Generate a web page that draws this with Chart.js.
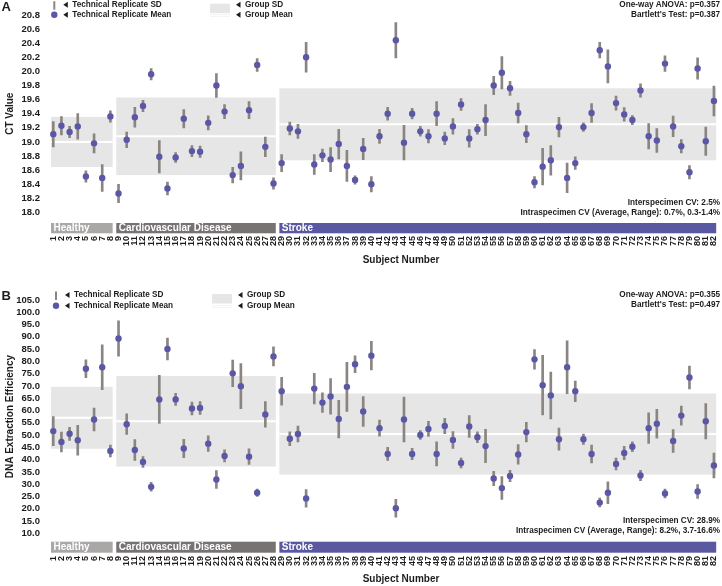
<!DOCTYPE html>
<html>
<head>
<meta charset="utf-8">
<script src="https://cdn.jsdelivr.net/npm/chart.js@4.4.0/dist/chart.umd.min.js"></script>
<style>
  html, body { margin: 0; padding: 0; background: #fff; }
  #wrap { position: relative; width: 722px; height: 586px; }
  canvas { position: absolute; left: 0; }
  #chart-ct { top: 0; }
  #chart-eff { top: 285px; }
</style>
</head>
<body>
<div id="wrap">
  <canvas id="chart-ct" width="722" height="285"></canvas>
  <canvas id="chart-eff" width="722" height="301"></canvas>
</div>
<script>
const subjects = Array.from({ length: 82 }, (_, i) => String(i + 1));

const groupNames = ['Healthy', 'Cardiovascular Disease', 'Stroke'];
const groupStart = [1, 9, 29];
const groupEnd = [8, 28, 82];

// panel A - CT value
const ctMean = [
    19.11, 19.23, 19.14, 19.22, 18.51, 18.98, 18.49, 19.36, 18.27, 19.03,
    19.35, 19.51, 19.96, 18.79, 18.34, 18.78, 19.33, 18.87, 18.86, 19.27,
    19.80, 19.43, 18.53, 18.66, 19.45, 20.09, 18.93, 18.41, 18.70, 19.19,
    19.15, 20.20, 18.68, 18.81, 18.75, 18.97, 18.66, 18.46, 18.90, 18.40,
    19.08, 19.40, 20.44, 18.99, 19.40, 19.15, 19.08, 19.40, 19.05, 19.22,
    19.53, 19.05, 19.18, 19.31, 19.80, 19.98, 19.76, 19.41, 19.11, 18.43,
    18.65, 18.74, 19.21, 18.49, 18.70, 19.21, 19.41, 20.30, 20.07, 19.55,
    19.39, 19.31, 19.73, 19.08, 19.02, 20.11, 19.22, 18.94, 18.57, 20.04,
    19.01, 19.58
];
const ctSd = [
    0.18, 0.13, 0.08, 0.18, 0.08, 0.135, 0.19, 0.08, 0.13, 0.11,
    0.14, 0.08, 0.08, 0.23, 0.09, 0.07, 0.13, 0.08, 0.08, 0.10,
    0.17, 0.10, 0.11, 0.20, 0.12, 0.09, 0.14, 0.08, 0.12, 0.09,
    0.10, 0.21, 0.14, 0.09, 0.17, 0.21, 0.22, 0.06, 0.15, 0.11,
    0.10, 0.09, 0.25, 0.245, 0.075, 0.07, 0.095, 0.17, 0.09, 0.11,
    0.085, 0.125, 0.07, 0.22, 0.13, 0.23, 0.10, 0.14, 0.12, 0.08,
    0.26, 0.21, 0.14, 0.21, 0.09, 0.06, 0.135, 0.11, 0.235, 0.10,
    0.095, 0.065, 0.095, 0.18, 0.17, 0.11, 0.145, 0.095, 0.095, 0.15,
    0.20, 0.21
];
const ctGroupMean = [19.0, 19.08, 19.25];
const ctGroupSd = [0.355, 0.55, 0.51];
const ctTicks = { min: 18.0, max: 20.8, step: 0.2 };
const ctStatsTop = ['One-way ANOVA: p=0.357', "Bartlett's Test: p=0.387"];
const ctStatsBottom = ['Interspecimen CV: 2.5%', 'Intraspecimen CV (Average, Range): 0.7%, 0.3-1.4%'];

// panel B - DNA extraction efficiency
const effMean = [
    51.6, 47.2, 50.5, 47.9, 77.0, 56.3, 77.6, 43.5, 89.3, 54.4,
    43.9, 39.0, 28.9, 64.5, 85.0, 64.5, 44.5, 60.8, 61.0, 46.5,
    31.9, 41.5, 75.1, 69.9, 41.2, 26.5, 58.4, 82.0, 67.8, 48.5,
    50.4, 24.2, 68.9, 63.2, 65.7, 56.5, 69.6, 78.8, 59.6, 82.3,
    52.8, 42.3, 20.2, 56.3, 42.3, 50.0, 52.5, 42.3, 53.7, 48.0,
    38.6, 53.5, 49.1, 45.5, 32.3, 28.4, 33.3, 42.1, 51.2, 80.8,
    70.3, 66.1, 48.3, 77.6, 67.8, 48.3, 42.3, 22.5, 26.5, 38.2,
    42.7, 45.2, 33.5, 52.8, 54.6, 26.2, 47.6, 57.9, 73.4, 27.0,
    55.6, 37.6
];
const effSd = [
    5.9, 4.05, 2.65, 6.05, 3.65, 4.65, 9.1, 2.45, 7.2, 4.2,
    4.2, 2.2, 1.8, 9.75, 4.45, 2.45, 3.7, 2.65, 2.65, 3.2,
    3.65, 2.45, 5.45, 9.2, 3.2, 1.5, 5.2, 3.85, 5.65, 2.85,
    3.2, 3.6, 6.2, 4.0, 7.25, 7.65, 9.95, 3.45, 6.05, 5.85,
    3.25, 2.65, 3.65, 9.15, 2.3, 1.8, 3.1, 4.9, 3.1, 3.45,
    2.0, 4.45, 2.25, 6.8, 2.9, 4.65, 2.3, 4.0, 4.0, 4.0,
    12.15, 9.5, 4.5, 10.75, 4.2, 2.1, 3.65, 1.8, 4.45, 2.45,
    2.7, 2.0, 2.1, 6.2, 5.9, 1.8, 4.65, 3.85, 4.65, 2.85,
    7.2, 5.1
];
const effGroupMean = [57.0, 55.6, 50.4];
const effGroupSd = [12.6, 18.4, 16.5];
const effTicks = { min: 10.0, max: 105.0, step: 5 };
const effStatsTop = ['One-way ANOVA: p=0.355', "Bartlett's Test: p=0.497"];
const effStatsBottom = ['Interspecimen CV: 28.9%', 'Intraspecimen CV (Average, Range): 8.2%, 3.7-16.6%'];

const FONT = '"Liberation Sans", Arial, Helvetica, sans-serif';
const colors = {
    point: '#5b57a7',
    whisker: '#8a8580',
    band: '#e6e6e6',
    text: '#1c1c1c',
    groups: ['#aaa7a7', '#777373', '#5b58a2']
};

function leftTriangle(ctx, x, y) {
    ctx.beginPath();
    ctx.moveTo(x, y);
    ctx.lineTo(x + 4.5, y - 3);
    ctx.lineTo(x + 4.5, y + 3);
    ctx.closePath();
    ctx.fill();
}

function groupEdges(x, k) {
    const w = x.getPixelForValue(1) - x.getPixelForValue(0);
    return [
        x.getPixelForValue(groupStart[k] - 1) - w / 2 + 1.8,
        x.getPixelForValue(groupEnd[k] - 1) + w / 2 - 1.8
    ];
}

function makePanelPlugin(p) {
    return {
        id: 'panel' + p.letter,
        beforeDatasetsDraw(chart) {
            const { ctx, scales: { x, y } } = chart;
            ctx.save();
            groupNames.forEach((g, k) => {
                const [x0, x1] = groupEdges(x, k);
                const top = y.getPixelForValue(p.groupMean[k] + p.groupSd[k]);
                const bot = y.getPixelForValue(p.groupMean[k] - p.groupSd[k]);
                ctx.fillStyle = colors.band;
                ctx.fillRect(x0, top, x1 - x0, bot - top);
                const ym = y.getPixelForValue(p.groupMean[k]);
                ctx.strokeStyle = '#fff';
                ctx.lineWidth = 2;
                ctx.beginPath();
                ctx.moveTo(x0, ym);
                ctx.lineTo(x1, ym);
                ctx.stroke();
            });
            ctx.restore();
        },
        afterDraw(chart) {
            const { ctx, chartArea, scales: { x } } = chart;
            ctx.save();

            // group label bars
            groupNames.forEach((g, k) => {
                const [x0, x1] = groupEdges(x, k);
                const t = chartArea.bottom + p.barTop;
                const b = chartArea.bottom + p.barBottom;
                ctx.fillStyle = colors.groups[k];
                ctx.fillRect(x0, t, x1 - x0, b - t);
                ctx.fillStyle = '#fff';
                ctx.font = 'bold 10px ' + FONT;
                ctx.textAlign = 'left';
                ctx.textBaseline = 'middle';
                ctx.fillText(g, x0 + 2.5, (t + b) / 2 + 0.5);
            });

            ctx.fillStyle = colors.text;

            // panel letter
            ctx.font = 'bold 13px ' + FONT;
            ctx.textAlign = 'left';
            ctx.textBaseline = 'middle';
            ctx.fillText(p.letter, 1.5, p.letterY);

            // axis titles
            ctx.font = 'bold 10px ' + FONT;
            ctx.textAlign = 'center';
            ctx.fillText('Subject Number', 401, p.xTitleY);
            ctx.save();
            ctx.translate(10, (chartArea.top + chartArea.bottom) / 2);
            ctx.rotate(-Math.PI / 2);
            ctx.fillText(p.yTitle, 0, 0);
            ctx.restore();

            // legend
            const [ly1, ly2] = p.legendY;
            ctx.strokeStyle = colors.whisker;
            ctx.lineWidth = 2;
            ctx.beginPath();
            ctx.moveTo(p.legendX, ly1 - 3.5);
            ctx.lineTo(p.legendX, ly1 + 5);
            ctx.stroke();
            ctx.fillStyle = colors.point;
            ctx.beginPath();
            ctx.arc(p.legendX, ly2, 3.2, 0, Math.PI * 2);
            ctx.fill();
            ctx.fillStyle = colors.band;
            ctx.fillRect(p.boxX, ly1 - 1, 20, 9.5);
            ctx.fillRect(p.boxX, ly2 - 0.5, 20, 2.2);
            ctx.fillStyle = '#fff';
            ctx.fillRect(p.boxX, ly2 - 0.2, 20, 1.4);

            ctx.fillStyle = colors.text;
            leftTriangle(ctx, p.legendX + 9, ly1);
            leftTriangle(ctx, p.legendX + 9, ly2);
            leftTriangle(ctx, p.boxX + 26, ly1);
            leftTriangle(ctx, p.boxX + 26, ly2);
            ctx.font = 'bold 8.2px ' + FONT;
            ctx.textAlign = 'left';
            ctx.fillText('Technical Replicate SD', p.legendX + 18, ly1);
            ctx.fillText('Technical Replicate Mean', p.legendX + 18, ly2);
            ctx.fillText('Group SD', p.boxX + 35, ly1);
            ctx.fillText('Group Mean', p.boxX + 35, ly2);

            // statistics
            ctx.textAlign = 'right';
            p.statsTop.forEach((s, i) => ctx.fillText(s, 720, p.statsTopY + i * 10));
            p.statsBottom.forEach((s, i) => ctx.fillText(s, 720, p.statsBottomY + i * 9.8));
            ctx.restore();
        }
    };
}

function buildChart(canvasId, p) {
    const ctx = document.getElementById(canvasId).getContext('2d');
    return new Chart(ctx, {
        data: {
            labels: subjects,
            datasets: [
                {
                    type: 'line',
                    label: 'Technical Replicate Mean',
                    data: p.mean,
                    showLine: false,
                    pointRadius: 3.2,
                    pointBackgroundColor: colors.point,
                    pointBorderWidth: 0,
                    order: 0
                },
                {
                    type: 'bar',
                    label: 'Technical Replicate SD',
                    data: p.mean.map((m, i) => [m - p.sd[i], m + p.sd[i]]),
                    backgroundColor: colors.whisker,
                    barThickness: 2,
                    order: 1
                }
            ]
        },
        options: {
            responsive: false,
            animation: false,
            layout: { padding: { top: p.top, right: 0.4, left: 0, bottom: 0 } },
            plugins: { legend: { display: false }, tooltip: { enabled: false } },
            scales: {
                x: {
                    type: 'category',
                    grid: { display: false, drawTicks: false },
                    border: { display: false },
                    ticks: {
                        autoSkip: false,
                        minRotation: 90,
                        maxRotation: 90,
                        padding: p.tickPad,
                        color: colors.text,
                        font: { family: FONT, size: 9, weight: 'bold' }
                    },
                    afterFit: s => {
                        s.height = p.xHeight;
                        // the big tick padding should not shrink the plot sideways
                        s.paddingLeft = 0;
                        s.paddingRight = 0;
                    }
                },
                y: {
                    min: p.ticks.min,
                    max: p.ticks.max,
                    grid: { display: false, drawTicks: false },
                    border: { display: false },
                    ticks: {
                        autoSkip: false,
                        stepSize: p.ticks.step,
                        padding: 9.2,
                        color: colors.text,
                        font: { family: FONT, size: 9.5, weight: 'bold' },
                        callback: v => Number(v).toFixed(1)
                    },
                    afterFit: s => { s.width = 49.2; }
                }
            }
        },
        plugins: [makePanelPlugin(p)]
    });
}

buildChart('chart-ct', {
    letter: 'A', letterY: 7.5, yTitle: 'CT Value',
    mean: ctMean, sd: ctSd, groupMean: ctGroupMean, groupSd: ctGroupSd, ticks: ctTicks,
    top: 4.8, xHeight: 72.5, tickPad: 23.5, barTop: 10.5, barBottom: 20.8, xTitleY: 260,
    legendY: [4.7, 14.7], legendX: 54.3, boxX: 210,
    statsTop: ctStatsTop, statsTopY: 4.7, statsBottom: ctStatsBottom, statsBottomY: 202.7
});

buildChart('chart-eff', {
    letter: 'B', letterY: 11, yTitle: 'DNA Extraction Efficiency',
    mean: effMean, sd: effSd, groupMean: effGroupMean, groupSd: effGroupSd, ticks: effTicks,
    top: 10, xHeight: 52.7, tickPad: 22.7, barTop: 8.4, barBottom: 19.4, xTitleY: 294,
    legendY: [10, 20.7], legendX: 56, boxX: 212,
    statsTop: effStatsTop, statsTopY: 9.3, statsBottom: effStatsBottom, statsBottomY: 235.7
});
</script>
</body>
</html>
